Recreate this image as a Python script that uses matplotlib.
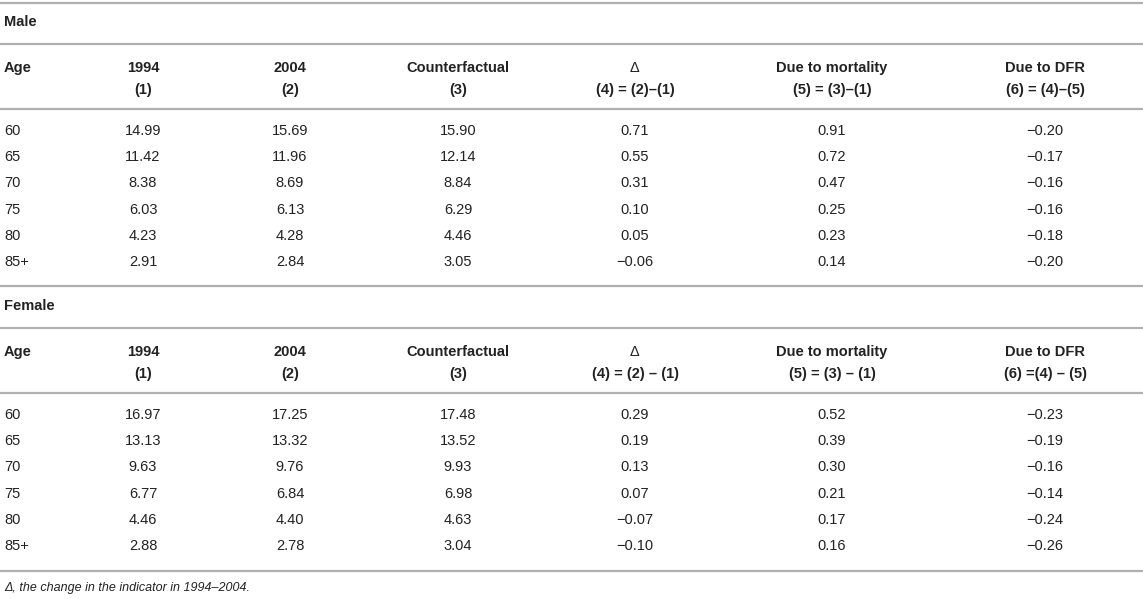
import matplotlib.pyplot as plt

plt.rcParams['font.family'] = ['Liberation Sans', 'DejaVu Sans']

# 표 데이터
ages = ['60', '65', '70', '75', '80', '85+']

male_1994 = ['14.99', '11.42', '8.38', '6.03', '4.23', '2.91']
male_2004 = ['15.69', '11.96', '8.69', '6.13', '4.28', '2.84']
male_cf = ['15.90', '12.14', '8.84', '6.29', '4.46', '3.05']
male_delta = ['0.71', '0.55', '0.31', '0.10', '0.05', '\u22120.06']
male_mort = ['0.91', '0.72', '0.47', '0.25', '0.23', '0.14']
male_dfr = ['\u22120.20', '\u22120.17', '\u22120.16', '\u22120.16', '\u22120.18', '\u22120.20']

female_1994 = ['16.97', '13.13', '9.63', '6.77', '4.46', '2.88']
female_2004 = ['17.25', '13.32', '9.76', '6.84', '4.40', '2.78']
female_cf = ['17.48', '13.52', '9.93', '6.98', '4.63', '3.04']
female_delta = ['0.29', '0.19', '0.13', '0.07', '\u22120.07', '\u22120.10']
female_mort = ['0.52', '0.39', '0.30', '0.21', '0.17', '0.16']
female_dfr = ['\u22120.23', '\u22120.19', '\u22120.16', '\u22120.14', '\u22120.24', '\u22120.26']

male_head = ['1994\n(1)', '2004\n(2)', 'Counterfactual\n(3)', '\u0394\n(4) = (2)\u2013(1)',
             'Due to mortality\n(5) = (3)\u2013(1)', 'Due to DFR\n(6) = (4)\u2013(5)']
female_head = ['1994\n(1)', '2004\n(2)', 'Counterfactual\n(3)', '\u0394\n(4) = (2) \u2013 (1)',
               'Due to mortality\n(5) = (3) \u2013 (1)', 'Due to DFR\n(6) =(4) \u2013 (5)']

note = '\u0394, the change in the indicator in 1994\u20132004.'

# 레이아웃 (픽셀 좌표)
col_x = [143, 290, 458, 635, 832, 1045]
fs = 10.5
line_col = '#b0b0b0'
txt_col = '#222222'

fig = plt.figure(figsize=(11.43, 5.99), dpi=100)
ax = fig.add_axes([0, 0, 1, 1])
ax.set_xlim(0, 1143)
ax.set_ylim(599, 0)
ax.axis('off')


def hline(y):
    ax.plot([0, 1143], [y, y], color=line_col, lw=1.6, solid_capstyle='butt')


def block(top, title, head, cols):
    ax.text(4, top + 19, title, fontsize=fs, fontweight='bold', va='center', color=txt_col)
    hline(top + 41)
    ax.text(4, top + 65, 'Age', fontsize=fs, fontweight='bold', va='center', color=txt_col)
    for x, h in zip(col_x, head):
        a, b = h.split('\n')
        # 델타 기호는 굵게 안 함
        w = 'normal' if a == '\u0394' else 'bold'
        ax.text(x, top + 65, a, fontsize=fs, fontweight=w, ha='center', va='center', color=txt_col)
        ax.text(x, top + 87, b, fontsize=fs, fontweight='bold', ha='center', va='center', color=txt_col)
    hline(top + 106)
    for i, age in enumerate(ages):
        y = top + 128 + i * 26.2
        ax.text(4, y, age, fontsize=fs, va='center', color=txt_col)
        for x, c in zip(col_x, cols):
            ax.text(x, y, c[i], fontsize=fs, ha='center', va='center', color=txt_col)


hline(3)
block(3, 'Male', male_head, [male_1994, male_2004, male_cf, male_delta, male_mort, male_dfr])
hline(286)
block(287, 'Female', female_head, [female_1994, female_2004, female_cf, female_delta, female_mort, female_dfr])
hline(571)
ax.text(4, 588, note, fontsize=9, style='italic', va='center', color=txt_col)

fig.savefig('out.png', dpi=100)
